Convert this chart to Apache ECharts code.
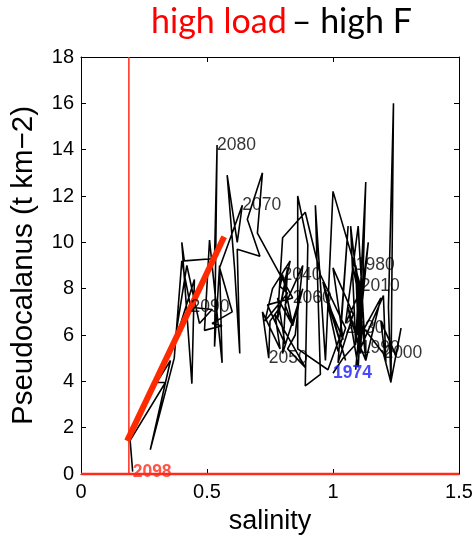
<!DOCTYPE html>
<html>
<head>
<meta charset="utf-8">
<script src="https://cdn.jsdelivr.net/npm/echarts@6/dist/echarts.min.js"></script>
<style>html,body{margin:0;padding:0;background:#fff}#c{width:474px;height:536px}</style>
</head>
<body>
<div id="c"></div>
<script>
// ---- data ----
const years = [];
for (let y = 1974; y <= 2098; y++) years.push(y);
const salinity = [
 1.00,1.04,1.09,1.10,1.08,1.12,            // 1974-1979
 1.09,1.10,1.13,1.11,1.06,1.10,1.12,1.10,1.19,1.13, // 1980-1989
 1.11,1.20,1.21,1.19,1.25,1.27,1.23,1.22,1.24,1.23, // 1990-1999
 1.20,1.10,1.14,1.09,1.12,1.05,1.10,1.13,1.07,1.09, // 2000-2009
 1.11,1.00,0.97,0.93,0.95,0.89,0.90,0.86,0.86,0.98, // 2010-2019
 1.03,1.06,1.02,1.08,1.00,1.04,0.98,1.05,0.96,1.02, // 2020-2029
 1.05,0.95,0.89,0.80,0.78,0.83,0.76,0.73,0.82,0.79, // 2030-2039
 0.80,0.84,0.81,0.88,0.85,0.82,0.89,0.77,0.79,0.72, // 2040-2049
 0.745,0.75,0.79,0.82,0.80,0.88,0.84,0.78,0.81,0.74, // 2050-2059
 0.84,0.70,0.72,0.66,0.71,0.62,0.63,0.61,0.58,0.62, // 2060-2069
 0.64,0.55,0.60,0.52,0.56,0.49,0.51,0.56,0.55,0.53, // 2070-2079
 0.54,0.53,0.41,0.40,0.44,0.45,0.37,0.42,0.47,0.52, // 2080-2089
 0.435,0.40,0.37,0.275,0.355,0.30,0.335,0.195,0.205 // 2090-2098
];
const biomass = [
 4.35,5.0,5.6,7.8,8.9,7.0,
 9.0,6.0,12.6,5.2,7.2,4.6,8.6,5.8,7.6,4.9,
 5.45,7.7,4.8,6.6,5.1,6.3,4.0,7.2,16.0,3.95,
 5.2,6.6,10.0,4.5,8.2,6.5,10.7,5.0,10.7,5.6,
 8.1,12.2,4.9,11.6,4.3,3.8,9.9,12.0,5.4,4.5,
 6.0,10.7,4.8,6.9,8.9,5.8,7.4,4.9,8.3,5.3,
 6.3,8.6,11.3,10.2,6.7,9.2,8.0,6.6,7.8,8.1,
 8.6,6.4,7.3,9.0,6.0,5.4,4.6,6.9,5.4,7.0,
 5.0,6.6,7.2,8.9,5.2,8.0,6.4,7.6,5.6,7.3,
 7.6,10.4,13.0,11.0,9.4,9.7,5.2,8.8,12.9,10.0,
 11.6,8.9,7.0,6.5,6.4,6.2,10.1,4.8,9.0,5.5,
 14.2,9.3,9.2,10.0,3.9,8.4,5.6,9.0,6.5,7.1,
 7.2,9.2,5.0,1.05,4.9,3.95,3.95,1.45,0.1
];
const labelYears = [1974,1980,1990,2000,2010,2030,2040,2050,2060,2070,2080,2090,2098];
const trendX = [0.183, 0.568];
const trendY = [1.43, 10.24];
const thresholdX = 0.19;
const xRange = [0, 1.5];
const yRange = [0, 18];

// ---- build ----
const traj = years.map((y,i)=>[salinity[i], biomass[i]]);
const labelPts = labelYears.map(y=>{
  const i = years.indexOf(y);
  let color = '#000', weight = 'normal';
  if (y === 1974) { color = '#1a1aff'; weight = 'bold'; }
  if (y === 2098) { color = '#ff2a1a'; weight = 'bold'; }
  return { value:[salinity[i], biomass[i]], name:String(y),
    label:{ color, fontWeight:weight } };
});
const font = '"Liberation Sans", Arial, Helvetica, sans-serif';
const tfont = 'Lato, "Open Sans", sans-serif';
const chart = echarts.init(document.getElementById('c'), null, {renderer:'canvas'});
const axisCommon = {
  axisLine:{show:true,onZero:false,lineStyle:{color:'#000',width:1}},
  axisTick:{show:true,inside:true,length:5,lineStyle:{color:'#000',width:1}},
  splitLine:{show:false}
};
chart.setOption({
  animation:false,
  backgroundColor:'#fff',
  title:{
    text:'{r|high load} {k|– high F}',
    left:146, top:0,
    textStyle:{ fontWeight:'normal', rich:{
      r:{color:'#ff0000', fontSize:34, fontWeight:'normal', fontFamily:tfont},
      k:{color:'#000', fontSize:34, fontWeight:'normal', fontFamily:tfont}
    }}
  },
  grid:{left:81, right:15, top:57, bottom:62, outerBoundsMode:'none', containLabel:false},
  xAxis:[
    Object.assign({type:'value', min:xRange[0], max:xRange[1], interval:0.5, position:'bottom',
      name:'salinity', nameLocation:'middle', nameGap:34,
      nameTextStyle:{fontSize:27, fontFamily:font, color:'#000'},
      axisLabel:{fontSize:20, fontFamily:font, color:'#000', margin:8,
        formatter:v=>String(v)}}, axisCommon),
    Object.assign({type:'value', min:xRange[0], max:xRange[1], interval:0.5, position:'top',
      axisLabel:{show:false}}, axisCommon)
  ],
  yAxis:[
    Object.assign({type:'value', min:yRange[0], max:yRange[1], interval:2, position:'left',
      name:'Pseudocalanus (t km\u22122)', nameLocation:'middle', nameGap:42,
      nameTextStyle:{fontSize:29.5, fontFamily:font, color:'#000'},
      axisLabel:{fontSize:20, fontFamily:font, color:'#000', margin:7}}, axisCommon),
    Object.assign({type:'value', min:yRange[0], max:yRange[1], interval:2, position:'right',
      axisLabel:{show:false}}, axisCommon)
  ],
  series:[
    { type:'line', data:traj, symbol:'none', lineStyle:{color:'#000', width:1.6}, z:3 },
    { type:'line', data:[[thresholdX,yRange[0]],[thresholdX,yRange[1]]], symbol:'none',
      lineStyle:{color:'#ff2a1a', width:1.5}, z:4 },
    { type:'line', data:[[xRange[0],0],[xRange[1],0]], symbol:'none',
      lineStyle:{color:'#ff2a1a', width:2.5}, z:4, clip:false },
    { type:'line', data:[[trendX[0],trendY[0]],[trendX[1],trendY[1]]], symbol:'none',
      lineStyle:{color:'#ff2a00', width:6}, z:5 },
    { type:'scatter', data:labelPts, symbolSize:0, z:6,
      label:{show:true, position:'right', distance:0, formatter:p=>p.name,
        fontSize:17.5, fontFamily:font, color:'#000'} }
  ]
});
</script>
</body>
</html>
